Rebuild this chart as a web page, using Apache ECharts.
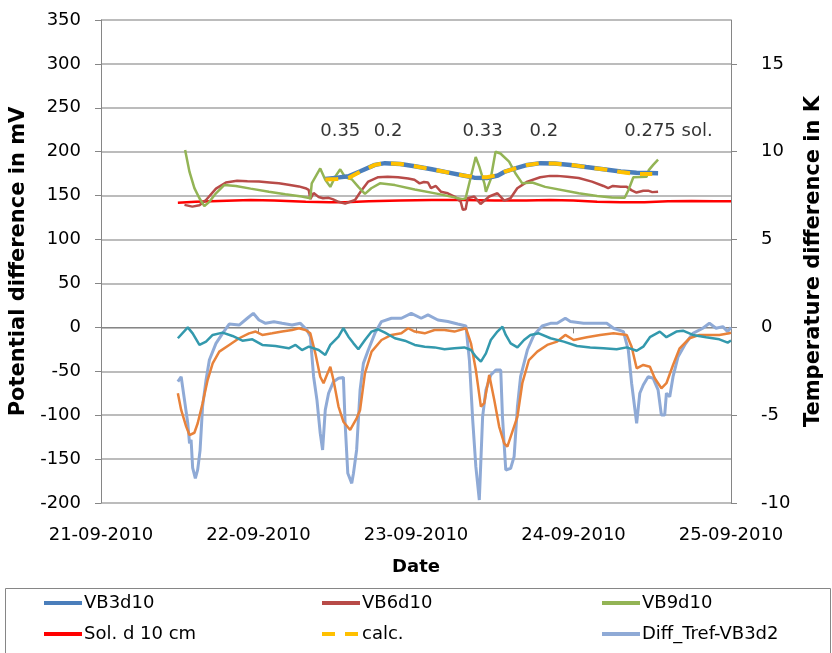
<!DOCTYPE html>
<html><head><meta charset="utf-8">
<script src="https://cdn.jsdelivr.net/npm/echarts/dist/echarts.min.js"></script>
<style>html,body{margin:0;padding:0;background:#fff}#c{width:832px;height:653px}</style>
</head><body><div id="c"></div><script>
// x values are days since 21-09-2010 00:00
const dateLabels = ['21-09-2010','22-09-2010','23-09-2010','24-09-2010','25-09-2010'];

// left axis, mV
const vb3d10 = [[1.424,169],[1.50,170.5],[1.571,172],[1.65,178],[1.739,185],[1.803,187],[1.90,186],[1.992,183.5],[2.10,180],[2.20,176.5],[2.30,173],[2.37,170.5],[2.45,170],[2.52,173],[2.56,177],[2.63,181],[2.707,185],[2.79,187],[2.88,186.5],[2.98,185],[3.08,182.5],[3.19,180],[3.30,177.5],[3.40,176],[3.537,175.5]];

const calc = [[1.424,168.5],[1.50,169],[1.571,170],[1.65,177.5],[1.739,185],[1.803,187],[1.90,186],[1.992,183.5],[2.10,180],[2.20,176.5],[2.30,173],[2.37,171],[2.45,171],[2.52,173.5],[2.56,177],[2.63,181],[2.707,185],[2.79,187],[2.88,186.5],[2.98,185],[3.08,182.5],[3.19,180],[3.30,177],[3.40,174.5],[3.50,174.5]];

const vb6d10 = [[0.53,139.5],[0.58,137.5],[0.625,139],[0.667,145],[0.73,158],[0.793,165],[0.864,167],[0.93,166.5],[1.003,166],[1.07,165],[1.129,164],[1.19,162.5],[1.256,160.5],[1.298,158.5],[1.319,156.5],[1.329,146],[1.35,153],[1.382,148.5],[1.41,147],[1.445,147.5],[1.47,146],[1.508,143],[1.55,141],[1.613,145],[1.65,155],[1.697,166],[1.76,171],[1.82,171.5],[1.886,171],[1.95,169.5],[1.99,168],[2.023,164],[2.05,165.5],[2.076,165],[2.095,158.5],[2.126,161],[2.158,154.5],[2.202,152.7],[2.244,149],[2.284,143],[2.297,134],[2.315,134.5],[2.328,147],[2.37,149],[2.41,140.5],[2.465,149],[2.517,152.7],[2.56,144.3],[2.60,147],[2.643,158.4],[2.707,166],[2.789,171],[2.85,172.5],[2.896,172.5],[2.96,171.5],[3.033,170],[3.117,166],[3.19,161],[3.22,158.5],[3.25,161],[3.30,160],[3.338,160],[3.37,156],[3.40,153.5],[3.443,155.5],[3.474,155.7],[3.50,154],[3.537,154.5]];

const vb9d10 = [[0.534,202],[0.562,177],[0.593,158.5],[0.625,147],[0.656,138],[0.688,143],[0.73,152.7],[0.782,162],[0.856,161],[0.95,158],[1.066,154.5],[1.17,151.5],[1.274,149],[1.329,147],[1.338,164],[1.392,181],[1.424,168],[1.456,160],[1.487,171.6],[1.519,180],[1.55,171],[1.592,168.7],[1.634,160],[1.676,152],[1.716,158.4],[1.771,164],[1.866,162],[1.992,157],[2.139,152],[2.297,146],[2.315,147],[2.379,194],[2.402,183],[2.434,164],[2.444,154.5],[2.473,168],[2.505,200],[2.536,198],[2.591,188.7],[2.631,175.5],[2.675,164],[2.738,165],[2.82,160],[3.033,152.7],[3.15,149.5],[3.243,148],[3.325,147.5],[3.349,156.5],[3.38,171],[3.464,171.5],[3.478,179],[3.506,185],[3.537,191]];

const solD10 = [[0.488,142],[0.60,143],[0.75,144],[0.95,145],[1.10,144.5],[1.30,143],[1.45,142.5],[1.55,142.5],[1.70,143.5],[1.90,144.5],[2.10,145],[2.30,145],[2.50,144.5],[2.70,144.5],[2.85,145],[3.00,144.5],[3.15,143],[3.30,142.5],[3.45,142.5],[3.60,143.5],[3.75,144],[3.90,143.5],[4.0,143.5]];

// right axis, K
const diffTref = [[0.488,-3.09],[0.509,-2.81],[0.53,-4.13],[0.551,-5.46],[0.562,-6.6],[0.572,-6.4],[0.582,-8.0],[0.599,-8.6],[0.614,-8.1],[0.629,-7.0],[0.645,-4.5],[0.667,-3.0],[0.688,-1.86],[0.73,-0.91],[0.772,-0.34],[0.814,0.19],[0.877,0.13],[0.929,0.52],[0.967,0.8],[1.003,0.42],[1.045,0.23],[1.098,0.32],[1.15,0.23],[1.213,0.13],[1.266,0.23],[1.308,-0.15],[1.329,-0.53],[1.35,-2.81],[1.371,-4.13],[1.392,-6.03],[1.407,-6.98],[1.424,-4.7],[1.445,-3.75],[1.476,-3.09],[1.508,-2.9],[1.539,-2.85],[1.55,-5.46],[1.567,-8.31],[1.592,-8.88],[1.603,-8.31],[1.623,-6.98],[1.645,-3.56],[1.666,-2.05],[1.697,-1.29],[1.739,-0.34],[1.781,0.33],[1.844,0.52],[1.907,0.52],[1.97,0.8],[2.033,0.52],[2.076,0.71],[2.139,0.42],[2.202,0.33],[2.265,0.19],[2.317,0.08],[2.339,-1.86],[2.36,-5.27],[2.38,-7.93],[2.402,-9.83],[2.423,-5.08],[2.444,-3.56],[2.475,-2.71],[2.507,-2.43],[2.538,-2.43],[2.549,-5.08],[2.57,-8.12],[2.601,-8.02],[2.623,-7.36],[2.644,-4.51],[2.664,-2.81],[2.707,-1.29],[2.749,-0.43],[2.801,0.08],[2.854,0.23],[2.896,0.23],[2.948,0.52],[2.98,0.33],[3.064,0.23],[3.148,0.23],[3.211,0.23],[3.254,-0.05],[3.317,-0.24],[3.348,-1.29],[3.369,-3.18],[3.401,-5.46],[3.421,-3.75],[3.443,-3.28],[3.474,-2.81],[3.506,-2.9],[3.537,-3.56],[3.558,-4.99],[3.579,-4.99],[3.59,-3.75],[3.611,-3.95],[3.632,-2.81],[3.664,-1.67],[3.706,-1.0],[3.758,-0.34],[3.821,-0.05],[3.863,0.23],[3.905,-0.05],[3.948,0.04],[3.979,-0.24],[4.0,0.0]];

const orangeT = [[0.488,-3.75],[0.509,-4.7],[0.541,-5.65],[0.562,-6.13],[0.593,-6.0],[0.614,-5.46],[0.645,-4.32],[0.677,-3.0],[0.709,-2.05],[0.751,-1.38],[0.814,-1.0],[0.877,-0.62],[0.94,-0.34],[0.982,-0.24],[1.024,-0.43],[1.087,-0.34],[1.15,-0.24],[1.213,-0.15],[1.256,-0.05],[1.298,-0.15],[1.329,-0.34],[1.361,-1.48],[1.392,-2.81],[1.413,-3.18],[1.434,-2.71],[1.456,-2.24],[1.476,-3.0],[1.508,-4.51],[1.539,-5.37],[1.582,-5.84],[1.592,-5.84],[1.623,-5.18],[1.645,-4.7],[1.676,-2.61],[1.718,-1.38],[1.781,-0.72],[1.844,-0.43],[1.907,-0.34],[1.95,-0.05],[1.992,-0.24],[2.055,-0.34],[2.118,-0.15],[2.181,-0.15],[2.244,-0.24],[2.317,-0.05],[2.349,-0.91],[2.38,-2.43],[2.412,-4.51],[2.433,-4.32],[2.465,-2.71],[2.497,-4.13],[2.528,-5.65],[2.56,-6.6],[2.58,-6.79],[2.612,-5.94],[2.644,-5.08],[2.675,-3.18],[2.717,-1.86],[2.77,-1.38],[2.833,-1.0],[2.896,-0.81],[2.948,-0.43],[3.001,-0.72],[3.085,-0.56],[3.169,-0.43],[3.254,-0.34],[3.338,-0.43],[3.369,-1.1],[3.401,-2.33],[3.443,-2.14],[3.485,-2.24],[3.516,-2.9],[3.558,-3.47],[3.59,-3.18],[3.632,-2.14],[3.674,-1.19],[3.737,-0.62],[3.80,-0.43],[3.863,-0.43],[3.926,-0.43],[3.989,-0.34],[4.0,-0.3]];

const tealT = [[0.488,-0.62],[0.551,0.0],[0.582,-0.34],[0.625,-1.0],[0.667,-0.81],[0.709,-0.43],[0.772,-0.3],[0.835,-0.49],[0.898,-0.76],[0.961,-0.68],[1.024,-1.0],[1.108,-1.06],[1.192,-1.19],[1.235,-1.0],[1.276,-1.29],[1.319,-1.1],[1.382,-1.29],[1.424,-1.57],[1.456,-1.0],[1.508,-0.53],[1.539,-0.05],[1.571,-0.53],[1.603,-0.91],[1.634,-1.25],[1.676,-0.72],[1.718,-0.24],[1.76,-0.11],[1.803,-0.3],[1.866,-0.62],[1.929,-0.76],[1.992,-1.0],[2.055,-1.1],[2.118,-1.14],[2.181,-1.25],[2.244,-1.19],[2.307,-1.14],[2.349,-1.29],[2.38,-1.67],[2.412,-1.95],[2.444,-1.48],[2.475,-0.72],[2.517,-0.24],[2.549,0.04],[2.57,-0.43],[2.601,-0.91],[2.644,-1.14],[2.686,-0.72],[2.727,-0.43],[2.78,-0.34],[2.854,-0.62],[2.938,-0.81],[3.022,-1.06],[3.106,-1.14],[3.19,-1.19],[3.274,-1.25],[3.338,-1.14],[3.401,-1.33],[3.443,-1.1],[3.485,-0.56],[3.548,-0.24],[3.59,-0.56],[3.653,-0.24],[3.695,-0.19],[3.758,-0.43],[3.842,-0.56],[3.926,-0.68],[3.979,-0.87],[4.0,-0.75]];

// annotation texts (x in days, y in mV)
const annotText = ['0.35','0.2','0.33','0.2','0.275 sol.'];
const annotX = [1.519, 1.823, 2.423, 2.812, 3.603];
const annotY = [223, 223, 223, 223, 223];

const FONT = 'DejaVu Sans';
const GRID_C = '#a6a6a6';
const AXIS_C = '#868686';

const chart = echarts.init(document.getElementById('c'), null, {renderer:'canvas'});

function line(name, data, color, width, yIdx, extra) {
  return Object.assign({
    name, type:'line', data, yAxisIndex:yIdx, symbol:'none', showSymbol:false,
    lineStyle:{color, width}, itemStyle:{color}, animation:false, z:2
  }, extra || {});
}

const legendCommon = {
  orient:'vertical', padding:0, itemGap:13, itemWidth:38, itemHeight:14,
  itemStyle:{opacity:0},
  lineStyle:{width:4},
  textStyle:{fontFamily:FONT, fontSize:18, color:'#000', lineHeight:18, padding:[0,0,0,-3]},
  top:594
};

chart.setOption({
  animation:false,
  backgroundColor:'#fff',
  grid:{left:101, right:97, top:20, bottom:150, containLabel:false},
  xAxis:{
    type:'value', min:0, max:4, interval:1,
    name:'Date', nameLocation:'middle', nameGap:55,
    nameTextStyle:{fontFamily:FONT, fontSize:18, fontWeight:'bold', color:'#000'},
    axisLine:{show:true, lineStyle:{color:AXIS_C, width:1}},
    axisTick:{show:true, length:6, lineStyle:{color:AXIS_C}},
    axisLabel:{fontFamily:FONT, fontSize:18, color:'#000', margin:23,
      formatter:(v)=>dateLabels[Math.round(v)]},
    splitLine:{show:false}
  },
  yAxis:[{
    type:'value', min:-200, max:350, interval:50, position:'left',
    name:'Potential difference in mV', nameLocation:'middle', nameGap:67,
    nameTextStyle:{fontFamily:FONT, fontSize:21, fontWeight:'bold', color:'#000'},
    axisLine:{show:true, lineStyle:{color:AXIS_C, width:1}},
    axisTick:{show:true, length:6, lineStyle:{color:AXIS_C}},
    axisLabel:{fontFamily:FONT, fontSize:18, color:'#000', margin:20},
    splitLine:{show:true, lineStyle:{color:GRID_C, width:1.5}}
  },{
    type:'value', min:-10, max:17.5, interval:5, position:'right',
    name:'Temperature difference in K', nameLocation:'middle', nameGap:72,
    nameTextStyle:{fontFamily:FONT, fontSize:21, fontWeight:'bold', color:'#000'},
    axisLine:{show:true, lineStyle:{color:AXIS_C, width:1}},
    axisTick:{show:true, length:6, lineStyle:{color:AXIS_C}},
    axisLabel:{fontFamily:FONT, fontSize:18, color:'#000', margin:30, showMaxLabel:false,
      formatter:(v)=> (v>15.1 ? '' : String(v))},
    splitLine:{show:false}
  }],
  legend:[
    Object.assign({left:42, data:['VB3d10','Sol. d 10 cm']}, legendCommon),
    Object.assign({left:320, data:['VB6d10','calc.']}, legendCommon),
    Object.assign({left:600, data:['VB9d10','Diff_Tref-VB3d2']}, legendCommon)
  ],
  graphic:[{
    type:'rect', left:3, top:586, shape:{width:825, height:120},
    style:{fill:'none', stroke:AXIS_C, lineWidth:1}, silent:true
  }],
  series:[
    line('Diff_Tref-VB3d2', diffTref, '#8faad6', 3, 1),
    line('Temp2', orangeT, '#e8823a', 2.5, 1),
    line('Temp3', tealT, '#3399ad', 2.5, 1),
    line('Sol. d 10 cm', solD10, '#ff0000', 2.5, 0),
    line('VB6d10', vb6d10, '#b84b48', 2.5, 0),
    line('VB9d10', vb9d10, '#93b455', 2.5, 0),
    line('VB3d10', vb3d10, '#4a7ebb', 4.5, 0, {z:3}),
    line('calc.', calc, '#ffc000', 4, 0, {z:4, lineStyle:{color:'#ffc000', width:4, type:[13,10]}}),
    {
      name:'annot', type:'scatter', yAxisIndex:0, symbolSize:1,
      itemStyle:{color:'rgba(0,0,0,0)'}, silent:true, z:5,
      data: annotText.map((t,i)=>({value:[annotX[i], annotY[i]], name:t})),
      label:{show:true, position:'inside', formatter:(p)=>p.name,
        fontFamily:FONT, fontSize:18, color:'#000'}
    }
  ]
});
</script></body></html>
